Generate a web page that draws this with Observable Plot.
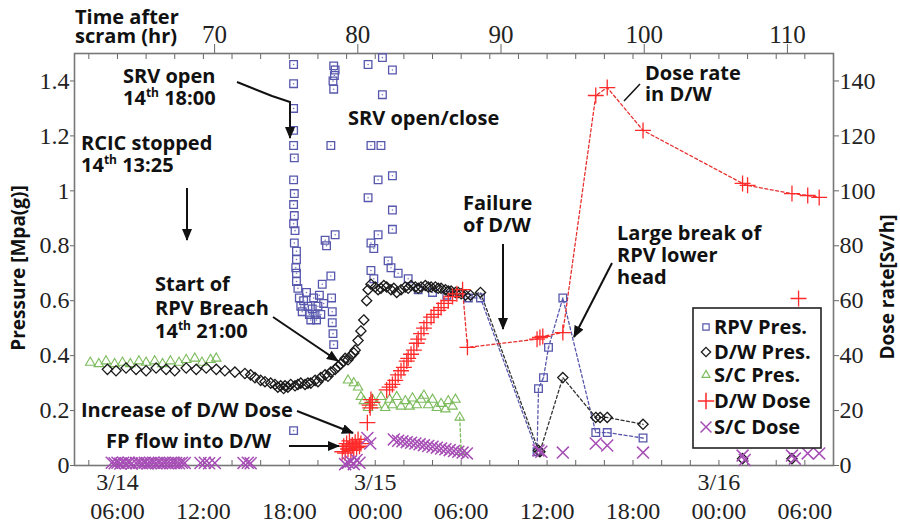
<!DOCTYPE html>
<html><head><meta charset="utf-8">
<script src="https://cdn.jsdelivr.net/npm/d3@7"></script>
<script src="https://cdn.jsdelivr.net/npm/@observablehq/plot@0.6"></script>
<style>body{margin:0;background:#fff}</style>
</head><body><div id="chart"></div>
<script>
// x = hours since 3/14 00:00 ; pressure in MPa(g) ; dose in Sv/h
const rpvPres = [[18.3,1.46],[18.3,1.39],[18.3,1.30],[18.3,1.22],[18.3,1.165],[18.35,1.12],[18.3,1.04],[18.35,0.99],[18.3,0.95],[18.35,0.91],[18.3,0.88],[18.4,0.855],[18.35,0.81],[18.5,0.78],[18.5,0.75],[18.45,0.72],[18.5,0.70],[18.5,0.67],[18.6,0.645],[18.7,0.61],[18.8,0.58],[18.9,0.56],
[19.0,0.60],[19.2,0.63],[19.3,0.58],[19.4,0.55],[19.5,0.53],[19.6,0.57],[19.7,0.61],[19.8,0.55],[19.9,0.53],[20.0,0.58],[20.1,0.62],[20.2,0.55],[20.3,0.66],[20.4,0.59],[20.5,0.82],[20.6,0.80],
[20.9,1.165],[20.9,0.69],[20.95,0.61],[21.0,0.56],[21.0,0.52],[21.05,0.48],[21.1,0.44],[21.05,1.40],[21.1,1.37],[21.15,1.42],[21.2,1.44],[21.1,1.455],[21.2,0.84],
[23.5,1.46],[24.5,1.485],[25.2,1.44],[24.5,1.35],[23.7,1.165],[24.4,1.165],[24.2,1.04],[25.2,1.055],[23.5,0.975],[25.2,0.93],[25.2,0.86],[24.2,0.84],[23.7,0.81],[23.9,0.79],[24.9,0.745],[23.7,0.71],[23.9,0.68],[25.1,0.72],[25.6,0.70],[26.3,0.68],
[27.0,0.64],[28.0,0.63],[29.0,0.62],[18.3,0.127],
[30.5,0.61],[31.35,0.61],[35.3,0.05],[35.4,0.28],[35.75,0.32],[36.1,0.43],[37.1,0.61],[39.4,0.12],[40.2,0.12],[42.7,0.10]];

const dwPres = [[5.3,.35],[5.9,.345],[6.6,.355],[7.3,.35],[8.0,.345],[8.7,.355],[9.4,.35],[10.0,.345],[10.8,.355],[11.5,.35],[12.2,.355],[12.9,.35],[13.5,.345],[14.2,.34],[14.9,.335],[15.3,.33],[15.6,.32],[16.0,.31],[16.3,.305],[16.7,.30],[17.0,.295],[17.2,.285],[17.4,.29],[17.6,.28],[17.7,.29],[17.9,.285],[18.1,.295],[18.4,.29],[18.6,.295],[18.8,.30],[19.1,.295],[19.3,.30],[19.5,.30],[19.8,.31],[20.0,.305],[20.2,.32],[20.5,.33],[20.7,.325],[20.9,.34],[21.2,.35],[21.4,.36],[21.6,.37],[21.8,.38],[21.9,.39],[22.1,.385],[22.3,.40],[22.5,.41],[22.6,.42],[22.8,.455],[23.0,.49],[23.2,.53],[23.4,.60],[23.5,.64],[23.7,.66],[24.0,.65],[24.2,.64],[24.4,.645],[24.6,.655],[24.8,.65],[25.1,.64],[25.3,.645],[25.5,.63],[25.8,.64],[26.1,.65],[26.3,.645],[26.5,.655],[26.8,.65],[27.0,.645],[27.2,.65],[27.5,.655],[27.7,.65],[27.9,.65],[28.2,.65],[28.4,.645],[28.6,.645],[28.9,.64],[29.1,.635],[29.3,.635],[29.6,.63],[29.8,.63],[30.0,.625],[30.3,.62],[30.65,.62],[31.35,.63],[35.4,.055],[35.5,.05],[37.1,.32],[39.4,.175],[39.7,.175],[40.2,.175],[42.7,.15],[49.65,.025],[53.1,.025]];

const scPres = [[4.1,.375],[4.7,.37],[5.2,.38],[5.8,.37],[6.35,.375],[6.9,.37],[7.5,.38],[8.0,.375],[8.6,.38],[9.15,.37],[9.7,.38],[10.3,.375],[10.8,.385],[11.4,.39],[11.9,.375],[12.5,.385],[12.9,.39],
[22.1,.31],[22.5,.30],[22.8,.285],[23.0,.25],[23.2,.235],[23.5,.21],[23.8,.24],[24.1,.22],[24.4,.25],[24.7,.21],[25.0,.24],[25.2,.22],[25.5,.25],[25.8,.215],[26.1,.235],[26.4,.215],[26.6,.245],[26.9,.22],[27.2,.24],[27.4,.255],[27.7,.22],[28.0,.24],[28.3,.21],[28.6,.225],[28.9,.205],[29.1,.235],[29.4,.215],[29.6,.24],[29.9,.175],[30.0,.05]];

const dwDose = [[21.7,5],[21.8,7],[21.9,4.5],[22.0,8],[22.1,6],[22.2,9],[22.3,5.5],[22.4,7.5],[22.5,6],[22.6,8.5],[22.7,6.5],[22.8,9.5],[22.9,7],[23.0,8],
[23.45,15.6],[23.6,22],[23.7,24],[23.8,23],[23.65,21],
[24.8,27.5],[25.0,28.5],[25.2,29.5],[25.4,31],[25.6,33],[25.8,34.5],[26.0,35.7],[26.2,38],[26.3,39],[26.5,40.5],[26.7,42],[26.9,44.5],[27.0,46],[27.2,48],[27.4,50],[27.6,52],[27.9,54],[28.1,55],[28.4,56.5],[28.6,57.5],[28.8,59],[29.1,60],[29.4,61.5],[29.7,62.5],[30.1,64],
[30.44,43],[35.3,46],[35.5,46.6],[35.7,47],[37.1,48.4],[39.4,134.7],[40.2,137.6],[42.7,122],[49.65,102.7],[50.0,102],[53.1,99],[54.2,98.3],[55.0,97.6]];
const dwDoseIsolated = [[53.56,60.8]];

const scDose = [[5.6,1],[5.8,.8],[6.0,1],[6.2,.7],[6.4,1],[6.6,.8],[6.8,1],[7.0,.7],[7.3,.9],[7.5,1],[7.7,.8],[7.9,1],[8.1,.7],[8.3,.9],[8.5,1],[8.7,.8],[8.9,1],[9.1,.8],[9.3,1],[9.5,.9],[9.7,.8],[9.9,1],[10.1,.9],[10.3,.8],[10.5,1],[10.7,.9],[11.8,.9],[12.1,1],[12.4,.8],[12.8,.9],[14.8,.9],[15.1,1],[15.3,.8],
[21.9,.5],[22.1,1],[22.3,1.5],[22.5,.5],[22.7,2],[22.9,1],
[23.45,10],[23.65,8],
[25.3,9.5],[25.6,9],[25.9,8.8],[26.2,8.5],[26.5,8.3],[26.8,8],[27.1,7.7],[27.4,7.4],[27.7,7.1],[28.0,6.8],[28.3,6.5],[28.6,6.2],[28.9,5.9],[29.2,5.6],[29.5,5.3],[29.8,5],[30.1,4.7],[30.4,4.4],
[35.4,5.5],[35.6,5],[37.1,4.7],[39.4,8],[40.2,7.3],[42.7,4.7],[49.65,3.6],[49.8,2],[53.1,3.6],[53.3,2.5],[54.2,4.4],[55.0,4.4]];

const pressureTicks = [0,0.2,0.4,0.6,0.8,1,1.2,1.4];
const doseTicks = [0,20,40,60,80,100,120,140];
const topHours = [70,80,90,100,110];
const timeTickPos = [6,12,18,24,30,36,42,48,54];
const timeLabels = ["06:00","12:00","18:00","00:00","06:00","12:00","18:00","00:00","06:00"];
const datePos = [6,24,48];
const dateLabels = ["3/14","3/15","3/16"];
const legendLabels = ["RPV Pres.","D/W Pres.","S/C Pres.","D/W Dose","S/C Dose"];

const scramOffset = 57.217; // hours from scram (3/11 14:47) to 3/14 00:00
const doseToY = v => v / 100;

const cBlue = "#5757ad", cBlack = "#1a1a1a", cGreen = "#7cbb5c", cRed = "#ff2a2a", cPurple = "#a64db5";
const sans = "'Open Sans', 'Noto Sans', sans-serif";
const serif = "'Liberation Serif', 'Times New Roman', serif";
const obj = a => a.map(([t, v]) => ({t, v}));
const minorTicks = d3.range(4, 56, 2);

const chart = Plot.plot({
  width: 900, height: 530,
  marginLeft: 74, marginRight: 67, marginTop: 53, marginBottom: 65,
  x: {domain: [3, 56]},
  y: {domain: [0, 1.5]},
  style: {fontFamily: serif, background: "#fff", color: "#222"},
  marks: [
    Plot.axisY({ticks: pressureTicks, anchor: "left", tickSize: 4, tickPadding: 1, tickFormat: d => String(+d.toFixed(1)), fontSize: 24, fontFamily: serif, stroke: "#666", fill: "#222", label: null}),
    Plot.axisY({ticks: doseTicks.map(doseToY), anchor: "right", tickSize: 5, tickPadding: 1, tickFormat: d => String(Math.round(d * 100)), fontSize: 24, fontFamily: serif, stroke: "#666", fill: "#222", label: null}),
    Plot.axisX({ticks: minorTicks, anchor: "bottom", tickSize: -5, stroke: "#666", fill: "none", label: null}),
    Plot.axisX({ticks: timeTickPos, anchor: "bottom", tickSize: 0, tickPadding: 36, tickFormat: d => timeLabels[timeTickPos.indexOf(d)], fontSize: 24, fontFamily: serif, fill: "#222", label: null}),
    Plot.axisX({ticks: datePos, anchor: "bottom", tickSize: 0, tickPadding: 7, tickFormat: d => dateLabels[datePos.indexOf(d)], fontSize: 24, fontFamily: serif, fill: "#222", label: null}),
    Plot.axisX({ticks: minorTicks, anchor: "top", tickSize: -5, stroke: "#666", fill: "none", label: null}),
    Plot.axisX({ticks: topHours.map(h => h - scramOffset), anchor: "top", tickSize: 10, tickPadding: 1, tickFormat: d => String(Math.round(d + scramOffset)), fontSize: 25, fontFamily: serif, stroke: "#666", fill: "#222", label: null}),
    Plot.frame({stroke: "#777", strokeWidth: 1.6}),
    // dashed connecting lines (late phase)
    Plot.line(obj(rpvPres).filter(d => d.t >= 30), {x: "t", y: "v", stroke: cBlue, strokeWidth: 1.3, strokeDasharray: "3,2.5"}),
    Plot.line(obj(dwPres).filter(d => d.t >= 30.6 && d.t <= 43), {x: "t", y: "v", stroke: "#333", strokeWidth: 1.3, strokeDasharray: "3,2.5"}),
    Plot.line(obj(scPres).filter(d => d.t >= 29.9), {x: "t", y: "v", stroke: cGreen, strokeWidth: 1.3, strokeDasharray: "3,2.5"}),
    Plot.line(obj(dwDose).filter(d => d.t >= 30), {x: "t", y: d => doseToY(d.v), stroke: "#e83030", strokeWidth: 1.3, strokeDasharray: "3,2.5"}),
    // markers
    Plot.dot(obj(rpvPres), {x: "t", y: "v", symbol: "square", r: 4.3, stroke: cBlue, fill: "none", strokeWidth: 1.3}),
    Plot.dot(obj(rpvPres), {x: "t", y: "v", r: 0.8, fill: "#7777bb", stroke: null}),
    Plot.dot(obj(scPres), {x: "t", y: "v", symbol: "triangle2", r: 4.5, stroke: cGreen, fill: "none", strokeWidth: 1.1}),
    Plot.dot(obj(dwPres), {x: "t", y: "v", symbol: "diamond2", r: 4.6, stroke: cBlack, fill: "none", strokeWidth: 1.3}),
    Plot.dot(obj(dwDose), {x: "t", y: d => doseToY(d.v), symbol: "plus", r: 5.2, stroke: cRed, strokeWidth: 1.3}),
    Plot.dot(obj(dwDoseIsolated), {x: "t", y: d => doseToY(d.v), symbol: "plus", r: 5.2, stroke: cRed, strokeWidth: 1.3}),
    Plot.dot(obj(scDose), {x: "t", y: d => doseToY(d.v), symbol: "times", r: 5.5, stroke: cPurple, strokeWidth: 1.5})
  ]
});
document.getElementById("chart").append(chart);

// ---------- annotations, axis titles, legend ----------
const svg = d3.select(chart);
const defs = svg.append("defs");
defs.append("marker").attr("id", "ah").attr("viewBox", "0 0 12 10").attr("refX", 11).attr("refY", 5)
  .attr("markerWidth", 12).attr("markerHeight", 10).attr("markerUnits", "userSpaceOnUse").attr("orient", "auto")
  .append("path").attr("d", "M0,0L12,5L0,10z").attr("fill", "#111");

const g = svg.append("g").attr("font-family", sans).attr("font-weight", 700).attr("font-size", 20)
  .attr("fill", "#111").attr("text-anchor", "start");

// multi-line text block as ONE text element; a line given as [a, sup, rest] gets a superscript
function block(x, y, lines, lh = 22) {
  const t = g.append("text").attr("x", x).attr("y", y);
  lines.forEach((ln, i) => {
    const dy = i === 0 ? 0 : lh;
    if (typeof ln === "string") {
      t.append("tspan").attr("x", x).attr("dy", dy).text(ln);
    } else {
      t.append("tspan").attr("x", x).attr("dy", dy).text(ln[0]);
      t.append("tspan").attr("font-size", 12).attr("dy", -8).text(ln[1]);
      t.append("tspan").attr("dy", 8).text(ln[2]);
    }
  });
  return t;
}
function arrow(pts, head = true, w = 2) {
  const p = g.append("path").attr("d", d3.line()(pts)).attr("fill", "none").attr("stroke", "#111").attr("stroke-width", w);
  if (head) p.attr("marker-end", "url(#ah)");
}

block(75, 24, ["Time after", "scram (hr)"], 19);
block(123, 83, ["SRV open", ["14", "th", " 18:00"]], 22);
arrow([[237, 82], [272, 96], [290, 102], [290, 138]]);
block(348, 125, ["SRV open/close"]);
block(81, 150, ["RCIC stopped", ["14", "th", " 13:25"]], 22);
arrow([[187, 188], [187, 240]]);
block(155, 291, ["Start of", "RPV Breach", ["14", "th", " 21:00"]], 23.5);
arrow([[273, 317], [338, 361]]);
block(81, 417, ["Increase of D/W Dose"]);
arrow([[297, 411], [353, 433]]);
block(106, 448, ["FP flow into D/W"]);
arrow([[289, 446], [339, 446]]);
block(463, 210, ["Failure", "of D/W"], 22);
arrow([[503, 244], [503, 329]]);
block(617, 240, ["Large break of", "RPV lower", "head"], 22);
arrow([[612, 263], [574, 337]]);
block(645, 80, ["Dose rate", "in D/W"], 21);
arrow([[640, 84], [624, 101]], false, 1.5);

// axis titles
g.append("text").attr("transform", "translate(25,268) rotate(-90)").attr("text-anchor", "middle").attr("font-size", 19).text("Pressure [Mpa(g)]");
g.append("text").attr("transform", "translate(894,287) rotate(-90)").attr("text-anchor", "middle").attr("font-size", 19).text("Dose rate[Sv/h]");

// legend
const lg = svg.append("g").attr("text-anchor", "start");
lg.append("rect").attr("x", 693).attr("y", 308).attr("width", 128).attr("height", 140).attr("fill", "#fff").attr("stroke", "#222").attr("stroke-width", 1.6);
const legSyms = [
  {sym: d3.symbolSquare, size: 40, color: cBlue, w: 1.2},
  {sym: d3.symbolDiamond2, size: 55, color: cBlack, w: 1.3},
  {sym: d3.symbolTriangle2, size: 45, color: cGreen, w: 1.2},
  {sym: d3.symbolPlus, size: 90, color: cRed, w: 1.5},
  {sym: d3.symbolTimes, size: 80, color: cPurple, w: 1.5}
];
const rowY = [327, 352, 375, 401, 427];
legSyms.forEach((s, i) => {
  lg.append("path").attr("transform", `translate(706,${rowY[i]})`).attr("d", d3.symbol(s.sym, s.size)())
    .attr("fill", "none").attr("stroke", s.color).attr("stroke-width", s.w);
});
const lt = lg.append("text").attr("x", 714).attr("y", rowY[0] + 7).attr("font-family", sans).attr("font-weight", 700)
  .attr("font-size", 20).attr("fill", "#111");
legendLabels.forEach((lab, i) => {
  lt.append("tspan").attr("x", 714).attr("dy", i === 0 ? 0 : rowY[i] - rowY[i - 1]).text(lab);
});
</script>
</body></html>
